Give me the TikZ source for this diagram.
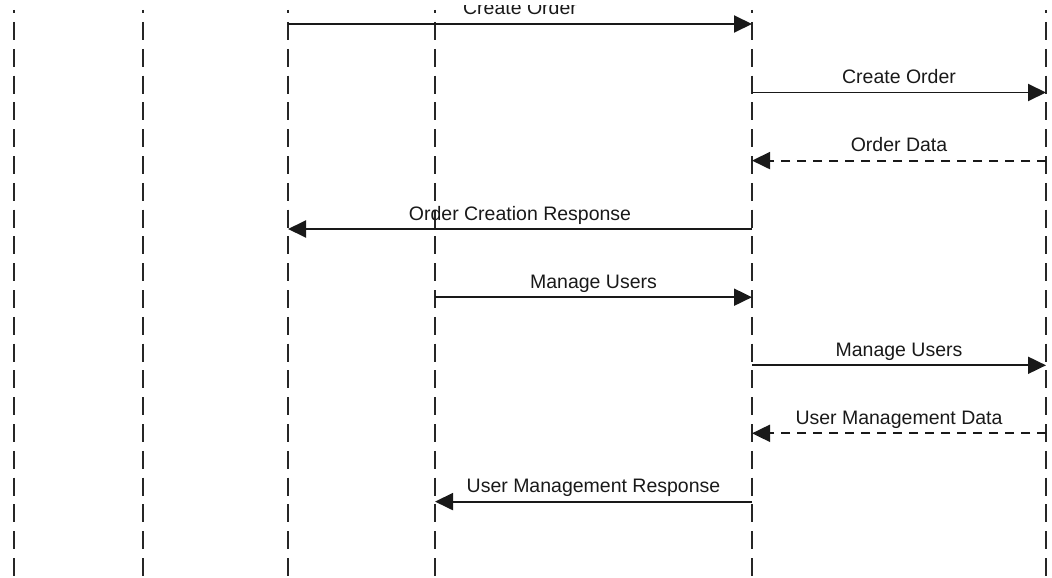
\documentclass[tikz,border=0pt]{standalone}
\usepackage{fontspec}
\setmainfont{Liberation Sans}
\usetikzlibrary{arrows.meta}
\begin{document}
\begin{tikzpicture}[x=1pt,y=-1pt,
  lifeline/.style={line width=1.9pt, dash pattern=on 18pt off 8.8pt, dash phase=14.8pt, draw=black!85},
  msg/.style={line width=1.9pt, draw=black!90, -{Triangle[length=18pt,width=17pt]}},
  reply/.style={msg, dash pattern=on 9pt off 7pt},
  lbl/.style={anchor=base, inner sep=0pt, text=black!90, font=\fontsize{19.5}{23}\selectfont}]
\useasboundingbox (0,0) rectangle (1052,578);
\clip (0,5.5) rectangle (1052,578);
% lifelines
\foreach \n/\x in {A/14,B/143,C/288,D/435,E/752,F/1046}{
  \coordinate (\n top) at (\x,10);
  \coordinate (\n bot) at (\x,580);
  \draw[lifeline] (\n top) -- (\n bot);
}
% message end points
\coordinate (c1) at (288,24);   \coordinate (e1) at (752,24);
\coordinate (e2) at (752,92.5); \coordinate (f2) at (1046,92.5);
\coordinate (f3) at (1046,160.6); \coordinate (e3) at (752,160.6);
\coordinate (e4) at (752,229); \coordinate (c4) at (288,229);
\coordinate (d5) at (435,297.2); \coordinate (e5) at (752,297.2);
\coordinate (e6) at (752,365.3); \coordinate (f6) at (1046,365.3);
\coordinate (f7) at (1046,433.3); \coordinate (e7) at (752,433.3);
\coordinate (e8) at (752,501.6); \coordinate (d8) at (435,501.6);
% messages
\draw[msg] (c1) -- (e1);
\draw[msg] (e2) -- (f2);
\draw[reply] (f3) -- (e3);
\draw[msg] (e4) -- (c4);
\draw[msg] (d5) -- (e5);
\draw[msg] (e6) -- (f6);
\draw[reply] (f7) -- (e7);
\draw[msg] (e8) -- (d8);
% labels
\node[lbl] (l1) at (520,14.5) {Create Order};
\node[lbl] (l2) at (899,83.5) {Create Order};
\node[lbl] (l3) at (899,151.6) {Order Data};
\node[lbl] (l4) at (520,220) {Order Creation Response};
\node[lbl] (l5) at (593.5,288.2) {Manage Users};
\node[lbl] (l6) at (899,356.3) {Manage Users};
\node[lbl] (l7) at (899,424.3) {User Management Data};
\node[lbl] (l8) at (593.5,492.6) {User Management Response};
\end{tikzpicture}
\end{document}
